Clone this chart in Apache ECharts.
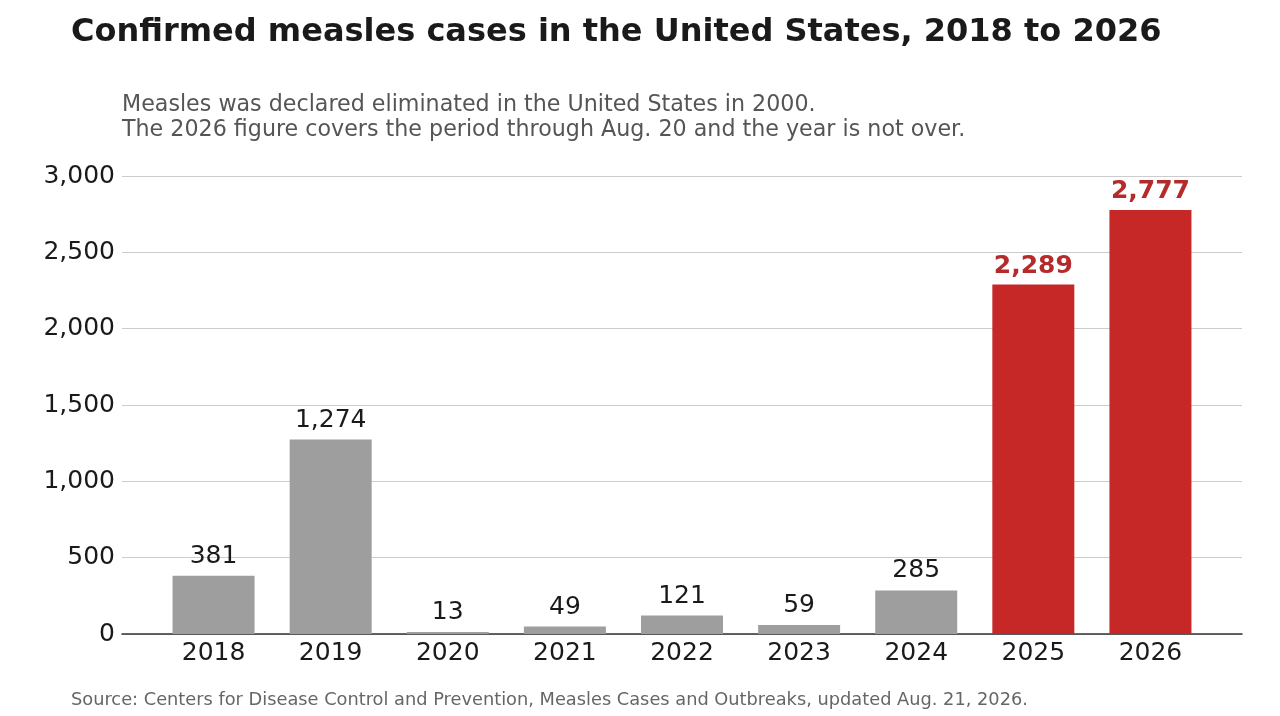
<!DOCTYPE html>
<html>
<head>
<meta charset="utf-8">
<script src="https://cdn.jsdelivr.net/npm/echarts@6/dist/echarts.min.js"></script>
<style>
  html, body { margin: 0; padding: 0; background: #fff; }
  #chart { width: 1280px; height: 716px; }
</style>
</head>
<body>
<div id="chart"></div>
<script>
var years = ['2018', '2019', '2020', '2021', '2022', '2023', '2024', '2025', '2026'];
var cases = [381, 1274, 13, 49, 121, 59, 285, 2289, 2777];
var highlight = [false, false, false, false, false, false, false, true, true];

var FONT = 'DejaVu Sans';
var GRAY = '#9e9e9e';
var RED = '#c62828';

function drawChart() {
  var dom = document.getElementById('chart');
  var myChart = echarts.init(dom);

  var barData = cases.map(function (v, i) {
    return {
      value: v,
      itemStyle: { color: highlight[i] ? RED : GRAY },
      label: highlight[i] ? { color: '#b52a2a', fontWeight: 'bold', distance: 6 } : {}
    };
  });

  var option = {
    animation: false,
    backgroundColor: '#fff',
    textStyle: { fontFamily: FONT },
    title: [{
      text: 'Confirmed measles cases in the United States, 2018 to 2026',
      left: 71, top: 17, padding: 0,
      textStyle: { fontFamily: FONT, fontSize: 32, fontWeight: 'bold', color: '#1a1a1a' }
    }, {
      text: 'Measles was declared eliminated in the United States in 2000.\nThe 2026 figure covers the period through Aug. 20 and the year is not over.',
      left: 122, top: 93, padding: 0,
      textStyle: { fontFamily: FONT, fontSize: 22.2, fontWeight: 'normal', color: '#555', lineHeight: 25 }
    }, {
      text: 'Source: Centers for Disease Control and Prevention, Measles Cases and Outbreaks, updated Aug. 21, 2026.',
      left: 71, top: 691, padding: 0,
      textStyle: { fontFamily: FONT, fontSize: 17.8, fontWeight: 'normal', color: '#666' }
    }],
    grid: [
      { left: 122, right: 38, top: 176, bottom: 82 },
      { left: 155, right: 71, top: 176, bottom: 82 }
    ],
    xAxis: [{
      gridIndex: 0, type: 'value', min: 0, max: 1,
      axisLine: { show: true, lineStyle: { color: '#333', width: 1.5 } },
      axisTick: { show: false }, axisLabel: { show: false }, splitLine: { show: false }
    }, {
      gridIndex: 1, type: 'category', data: years,
      axisLine: { show: false }, axisTick: { show: false },
      axisLabel: { fontFamily: FONT, fontSize: 25, color: '#1a1a1a', margin: 7 }
    }],
    yAxis: [{
      gridIndex: 0, type: 'value', min: 0, max: 3000, interval: 500,
      axisLine: { show: false }, axisTick: { show: false },
      axisLabel: {
        fontFamily: FONT, fontSize: 25, color: '#1a1a1a', margin: 7,
        padding: [14, 0, 0, 0],
        formatter: function (v) { return v.toLocaleString('en-US'); }
      },
      splitLine: { lineStyle: { color: '#cccccc', width: 1 } }
    }, {
      gridIndex: 1, type: 'value', min: 0, max: 3000, interval: 500,
      axisLine: { show: false }, axisTick: { show: false },
      axisLabel: { show: false }, splitLine: { show: false }
    }],
    series: [{
      type: 'bar',
      xAxisIndex: 1, yAxisIndex: 1,
      barWidth: 82,
      data: barData,
      label: {
        show: true, position: 'top', distance: 7,
        fontFamily: FONT, fontSize: 25, color: '#1a1a1a',
        formatter: function (p) { return p.value.toLocaleString('en-US'); }
      }
    }]
  };

  if (option && typeof option === 'object') {
    myChart.setOption(option, true);
  }
}

drawChart();
</script>
</body>
</html>
